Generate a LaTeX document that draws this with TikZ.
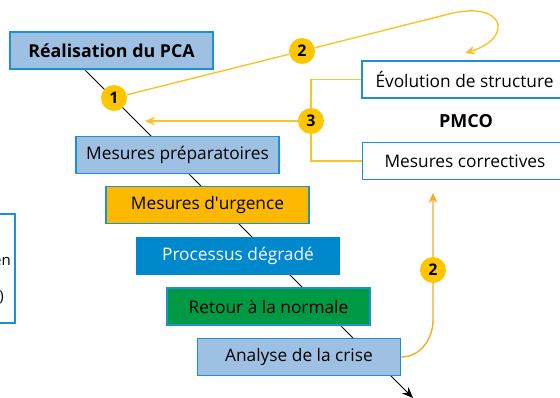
\documentclass[tikz,border=0pt]{standalone}
\usepackage{fontspec}
\setmainfont{Open Sans}
\usepackage{tikz}
\usetikzlibrary{arrows.meta,backgrounds}
\definecolor{pcablue}{RGB}{158,193,227}
\definecolor{pcaedge}{RGB}{28,145,210}
\definecolor{pcaorange}{RGB}{253,185,0}
\definecolor{pcadark}{RGB}{0,136,204}
\definecolor{pcagreen}{RGB}{0,154,68}
\definecolor{pcayellow}{RGB}{255,198,0}
\definecolor{pcaline}{RGB}{250,196,40}
\definecolor{pcaarrow}{RGB}{245,172,40}

\tikzset{
  phase/.style={draw=pcaedge, line width=1.6pt, rectangle, minimum width=203pt, minimum height=37pt, inner sep=0pt, font=\fontsize{17.3}{20}\selectfont},
  pmco/.style={phase, fill=white, minimum width=205pt},
  num/.style={circle, fill=pcayellow, minimum size=26pt, inner sep=0pt, font=\fontsize{16}{18}\selectfont\bfseries},
  link/.style={pcaline, line width=1.4pt},
}

\begin{document}
\begin{tikzpicture}[x=1pt,y=-1pt]
  \useasboundingbox (0,0) rectangle (560,398);
  \clip (0,0) rectangle (560,398);

  % phases du PCA
  \node[phase, fill=pcablue, font=\fontsize{17.8}{20}\selectfont\bfseries] (real) at (111.5,50.5) {Réalisation du PCA};
  \node[phase, fill=pcablue] (prep) at (177.5,155) {Mesures préparatoires};
  \node[phase, fill=pcaorange] (urg) at (207.5,205) {Mesures d\textquotesingle urgence};
  \node[phase, fill=pcadark, draw=pcadark, text=white] (proc) at (238,256) {Processus dégradé};
  \node[phase, fill=pcagreen] (ret) at (268.5,306.5) {Retour à la normale};
  \node[phase, fill=pcablue] (ana) at (299,357) {Analyse de la crise};

  % PMCO
  \node[pmco] (evo) at (464.5,79.5) {Évolution de structure};
  \node[font=\fontsize{18}{20}\selectfont\bfseries] (pmco) at (466,121) {PMCO};
  \node[pmco] (corr) at (465,161) {Mesures correctives};

  % boite coupee a gauche
  \node[draw=pcaedge, line width=1.6pt, minimum width=40pt, minimum height=109pt] (side) at (-5,268.5) {};
  \node[anchor=east, inner sep=0pt, font=\fontsize{15}{17}\selectfont] (sidea) at (11,261) {en};
  \node[anchor=east, inner sep=0pt, font=\fontsize{15}{17}\selectfont] (sideb) at (4,297) {)};

  % numeros
  \node[num] (c1) at (114,98) {1};
  \node[num] (c2) at (302,51) {2};
  \node[num] (c3) at (311,121) {3};
  \node[num] (c2b) at (433,270) {2};

  \coordinate (diagtop) at (84,69);
  \coordinate (diagend) at (413,398);
  \coordinate (turn) at (445,15);
  \coordinate (evotop) at (465,53);
  \coordinate (back3) at (145,121);
  \coordinate (bend) at (433,320);
  \coordinate (corrbot) at (433,193);

  \begin{scope}[on background layer]
    \draw[line width=1pt, -{Stealth[length=11pt,width=9pt]}] (diagtop) -- (diagend);
    \draw[link, -{Stealth[length=10pt,width=9pt]}] (c1) -- (c2) -- (turn)
      .. controls (505,-2) and (515,38) .. (evotop);
    \draw[link] (evo.west) -| (c3) |- (corr.west);
    \draw[link, -{Stealth[length=10pt,width=9pt]}] (c3) -- (back3);
    \draw[link, pcaarrow, -{Stealth[length=10pt,width=9pt]}] (ana.east) to[out=0,in=-90] (bend) -- (c2b) -- (corrbot);
  \end{scope}
\end{tikzpicture}
\end{document}
